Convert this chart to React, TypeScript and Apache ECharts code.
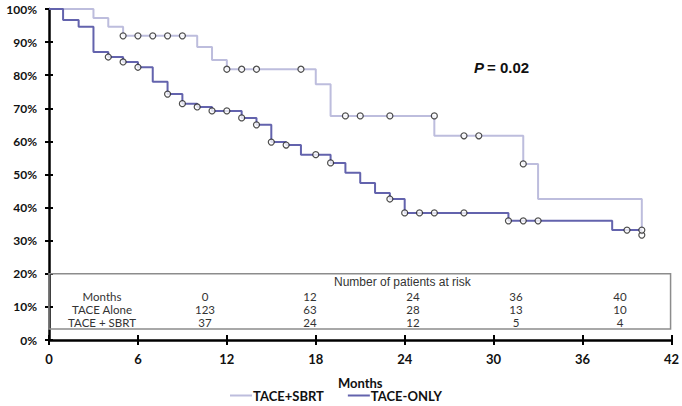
import React, { useEffect, useRef } from "react";
import * as echarts from "echarts";

// Kaplan-Meier step points (month, survival %)
const sbrtMonths = [0, 3, 4, 5, 10, 11, 12, 18, 19, 26, 32, 33, 40];
const sbrtSurv = [100, 97.3, 94.6, 91.9, 88.5, 84.6, 81.8, 77.3, 67.7, 61.7, 53.2, 42.6, 31.7];
const sbrtCensorMonths = [5, 6, 7, 8, 9, 12, 13, 14, 17, 20, 21, 23, 26, 28, 29, 32, 40];
const sbrtCensorSurv = [91.9, 91.9, 91.9, 91.9, 91.9, 81.8, 81.8, 81.8, 81.8, 67.7, 67.7, 67.7, 67.7, 61.7, 61.7, 53.2, 31.7];

const onlyMonths = [0, 0.95, 2, 3, 4, 5, 6, 7, 8, 9, 10, 11, 13, 14, 15, 16, 17, 19, 20, 21, 22, 23, 24, 31, 38, 40];
const onlySurv = [100, 96.7, 94.6, 87.0, 85.5, 84.0, 82.4, 78.0, 74.3, 71.4, 70.4, 69.2, 67.1, 65.0, 59.8, 58.9, 56.0, 53.5, 50.5, 47.4, 44.4, 42.6, 38.4, 36.0, 33.2, 33.2];
const onlyCensorMonths = [4, 5, 6, 8, 9, 10, 11, 12, 13, 14, 15, 16, 18, 19, 23, 24, 25, 26, 28, 31, 32, 33, 39, 40];
const onlyCensorSurv = [85.5, 84.0, 82.4, 74.3, 71.4, 70.4, 69.2, 69.2, 67.1, 65.0, 59.8, 58.9, 56.0, 53.5, 42.6, 38.4, 38.4, 38.4, 38.4, 36.0, 36.0, 36.0, 33.2, 33.2];

// Number at risk table
const riskMonths = ["0", "12", "24", "36", "40"];
const riskAlone = ["123", "63", "28", "13", "10"];
const riskSbrt = ["37", "24", "12", "5", "4"];
const riskRowLabels = ["Months", "TACE Alone", "TACE + SBRT"];

const xTicks = { min: 0, max: 42, interval: 6 };
const yTicks = { min: 0, max: 100, interval: 10 };

const LIGHT = "#bdbddd";
const DARK = "#6363ad";

const zip = (a: number[], b: number[]) => a.map((v, i) => [v, b[i]]);

export default function App() {
  const ref = useRef<HTMLDivElement>(null);
  useEffect(() => {
    if (!ref.current) return;
    const chart = echarts.init(ref.current, null, { renderer: "svg" });
    const tickStyle = { color: "#000", width: 2 };
    const option: any = {
      animation: false,
      backgroundColor: "#fff",
      grid: { left: 49, right: 10, top: 9, bottom: 66 },
      xAxis: [
        {
          type: "value",
          ...xTicks,
          axisLine: { show: true, lineStyle: { color: "#000", width: 2.5 } },
          axisTick: { show: true, length: 5, lineStyle: tickStyle },
          splitLine: { show: false },
          axisLabel: { margin: 12, color: "#111", fontFamily: "Lato", fontWeight: "bold", fontSize: 13 },
          name: "Months",
          nameLocation: "middle",
          nameGap: 36,
          nameTextStyle: { color: "#111", fontFamily: "Lato", fontWeight: "bold", fontSize: 13 },
        },
        {
          type: "value",
          ...xTicks,
          position: "bottom",
          axisLine: { show: false },
          axisTick: { show: true, inside: true, length: 5, lineStyle: tickStyle },
          splitLine: { show: false },
          axisLabel: { show: false },
        },
      ],
      yAxis: [
        {
          type: "value",
          ...yTicks,
          axisLine: { show: true, lineStyle: { color: "#000", width: 2.5 } },
          axisTick: { show: true, length: 4, lineStyle: tickStyle },
          splitLine: { show: false },
          axisLabel: {
            margin: 12,
            formatter: "{value}%",
            color: "#111",
            fontFamily: "Lato",
            fontWeight: "bold",
            fontSize: 12,
          },
        },
        {
          type: "value",
          ...yTicks,
          position: "left",
          axisLine: { show: false },
          axisTick: { show: true, inside: true, length: 4, lineStyle: tickStyle },
          splitLine: { show: false },
          axisLabel: { show: false },
        },
      ],
      legend: {
        left: 230,
        top: 389,
        padding: 0,
        itemWidth: 22,
        itemHeight: 2,
        itemGap: 24,
        textStyle: { color: "#111", fontFamily: "Lato", fontWeight: "bold", fontSize: 13, padding: [0, 0, 0, -4] },
        data: [
          { name: "TACE+SBRT", icon: "rect" },
          { name: "TACE-ONLY", icon: "rect" },
        ],
      },
      series: [
        {
          name: "TACE+SBRT",
          type: "line",
          step: "end",
          showSymbol: false,
          data: zip(sbrtMonths, sbrtSurv),
          lineStyle: { color: LIGHT, width: 2 },
          itemStyle: { color: LIGHT },
          z: 2,
        },
        {
          name: "TACE-ONLY",
          type: "line",
          step: "end",
          showSymbol: false,
          data: zip(onlyMonths, onlySurv),
          lineStyle: { color: DARK, width: 2 },
          itemStyle: { color: DARK },
          z: 3,
        },
        {
          name: "SBRT censored",
          type: "scatter",
          data: zip(sbrtCensorMonths, sbrtCensorSurv),
          symbol: "circle",
          symbolSize: 6,
          itemStyle: { color: "#fff", borderColor: "#222", borderWidth: 1.2 },
          z: 5,
        },
        {
          name: "ONLY censored",
          type: "scatter",
          data: zip(onlyCensorMonths, onlyCensorSurv),
          symbol: "circle",
          symbolSize: 6,
          itemStyle: { color: "#fff", borderColor: "#222", borderWidth: 1.2 },
          z: 5,
        },
      ],
    };
    chart.setOption(option);

    // Risk table and annotation
    const tl = chart.convertToPixel({ gridIndex: 0 }, [0, 20]) as number[];
    const br = chart.convertToPixel({ gridIndex: 0 }, [41.94, 3.3]) as number[];
    const boxStroke = { stroke: "#8c8c8c", lineWidth: 1.5, fill: "none" };
    const tableFont = { fontFamily: "Lato", fontSize: 11.5, fill: "#333" };
    const rowsY = [296, 309, 322];
    const colX = [205, 310, 413, 516, 620];
    const rows = [riskMonths, riskAlone, riskSbrt];
    const texts: any[] = [];
    rows.forEach((row, r) => {
      texts.push({
        type: "text",
        x: 102,
        y: rowsY[r],
        style: { ...tableFont, text: riskRowLabels[r], align: "center", verticalAlign: "middle" },
      });
      row.forEach((v, c) => {
        texts.push({
          type: "text",
          x: colX[c],
          y: rowsY[r],
          style: { ...tableFont, text: v, align: "center", verticalAlign: "middle" },
        });
      });
    });
    chart.setOption({
      graphic: [
        {
          type: "rect",
          shape: { x: tl[0], y: tl[1], width: br[0] - tl[0], height: br[1] - tl[1] },
          style: boxStroke,
          z: 1,
        },
        {
          type: "text",
          x: 334,
          y: 282,
          style: {
            text: "Number of patients at risk",
            fontFamily: "Liberation Sans",
            fontSize: 12,
            fill: "#333",
            align: "left",
            verticalAlign: "middle",
          },
        },
        ...texts,
        {
          type: "text",
          x: 474,
          y: 67,
          style: {
            text: "P",
            fontFamily: "Liberation Sans",
            fontWeight: "bold",
            fontStyle: "italic",
            fontSize: 15,
            fill: "#111",
            align: "left",
            verticalAlign: "middle",
          },
        },
        {
          type: "text",
          x: 487,
          y: 67,
          style: {
            text: "= 0.02",
            fontFamily: "Liberation Sans",
            fontWeight: "bold",
            fontSize: 15,
            fill: "#111",
            align: "left",
            verticalAlign: "middle",
          },
        },
      ],
    });
    return () => chart.dispose();
  }, []);
  return (
    <div
      ref={ref}
      style={{ position: "fixed", left: 0, top: 0, width: 682, height: 406, background: "#fff" }}
    />
  );
}
